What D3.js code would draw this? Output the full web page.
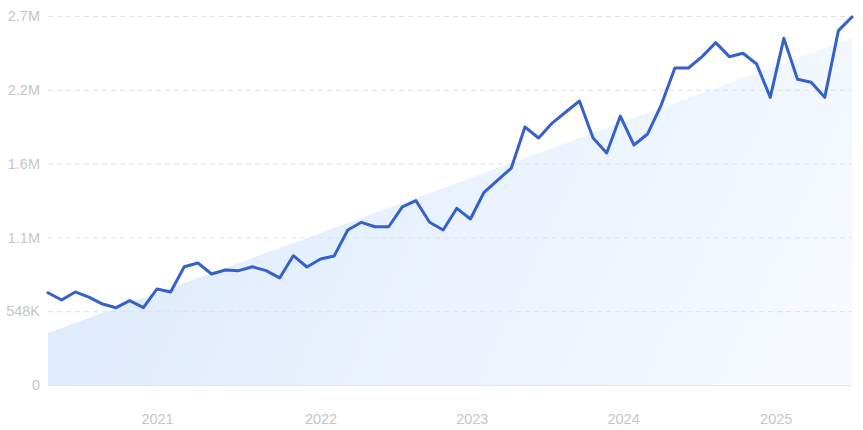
<!DOCTYPE html>
<html>
<head>
<meta charset="utf-8">
<script src="https://cdn.jsdelivr.net/npm/d3@7/dist/d3.min.js"></script>
<style>
  html, body { margin: 0; padding: 0; background: #ffffff; }
  svg { display: block; font-family: Inter, "Noto Sans", sans-serif; }
</style>
</head>
<body>
<svg id="chart" width="863" height="430"></svg>
<script>
// ---- data ----
const values = [
  685000, 631000, 691000, 653000, 601000, 574000, 626000, 574000, 713000, 691000,
  878000, 906000, 824000, 854000, 849000, 878000, 849000, 795000, 960000, 876000,
  936000, 958000, 1151000, 1208000, 1175000, 1175000, 1322000, 1369000, 1208000, 1151000,
  1312000, 1233000, 1431000, 1522000, 1611000, 1916000, 1834000, 1945000, 2027000, 2109000,
  1834000, 1723000, 1997000, 1782000, 1864000, 2079000, 2354000, 2354000, 2438000, 2542000,
  2438000, 2463000, 2384000, 2136000, 2574000, 2270000, 2248000, 2136000, 2631000, 2733000
];
const trendValues = [386000, 2577000];       // trend at first and last point
const yTickValues = [0, 548000, 1096000, 1644000, 2192000, 2740000];
const yTickLabels = ["0", "548K", "1.1M", "1.6M", "2.2M", "2.7M"];
const xTickIndex = [8, 20, 31.1, 42.2, 53.4];
const xTickLabels = ["2021", "2022", "2023", "2024", "2025"];

// ---- layout ----
const svg = d3.select("#chart");
const mLeft = 48, mRight = 852, mTop = 16, mBottom = 385;

const x = d3.scaleLinear().domain([0, values.length - 1]).range([mLeft, mRight]);
const y = d3.scaleLinear().domain([0, 2740000]).range([mBottom, mTop]);

// gradient
const defs = svg.append("defs");
const grad = defs.append("linearGradient")
  .attr("id", "fillGrad")
  .attr("gradientUnits", "userSpaceOnUse")
  .attr("x1", mLeft).attr("y1", mTop)
  .attr("x2", mRight).attr("y2", mBottom);
grad.append("stop").attr("offset", "0%").attr("stop-color", "#dce8fb");
grad.append("stop").attr("offset", "55%").attr("stop-color", "#eaf3fe");
grad.append("stop").attr("offset", "100%").attr("stop-color", "#f7faff");

// trend area
const trendData = [
  { i: 0, v: trendValues[0] },
  { i: values.length - 1, v: trendValues[1] }
];
svg.append("path")
  .datum(trendData)
  .attr("fill", "url(#fillGrad)")
  .attr("d", d3.area().x(d => x(d.i)).y0(y(0)).y1(d => y(d.v)));

// y axis labels
const yAxis = d3.axisLeft(y)
  .tickValues(yTickValues)
  .tickFormat((d, i) => yTickLabels[i])
  .tickSize(0)
  .tickPadding(8);

const gy = svg.append("g").attr("transform", `translate(${mLeft},0)`).call(yAxis);
gy.select(".domain").remove();
gy.selectAll("text")
  .attr("fill", "#c6c6c8")
  .style("font-size", "14.5px")
  .attr("x", -8);

// grid lines
const grid = svg.append("g");
grid.selectAll("line")
  .data(yTickValues)
  .join("line")
  .attr("x1", mLeft).attr("x2", mRight)
  .attr("y1", d => y(d) + 0.5).attr("y2", d => y(d) + 0.5)
  .attr("stroke", d => d === 0 ? "#e2e5ea" : "#dde2e8")
  .attr("stroke-width", 1)
  .attr("stroke-dasharray", d => d === 0 ? null : "5,4");

// x axis labels
const xAxis = d3.axisBottom(x)
  .tickValues(xTickIndex)
  .tickFormat((d, i) => xTickLabels[i])
  .tickSize(0)
  .tickPadding(0);
const gx = svg.append("g").attr("transform", `translate(0,${mBottom})`).call(xAxis);
gx.select(".domain").remove();
gx.selectAll("text")
  .attr("fill", "#c6c6c8")
  .style("font-size", "14.5px")
  .attr("dy", null)
  .attr("y", 39);

// line
svg.append("path")
  .datum(values)
  .attr("fill", "none")
  .attr("stroke", "#3561cb")
  .attr("stroke-width", 3)
  .attr("stroke-linejoin", "round")
  .attr("stroke-linecap", "round")
  .attr("d", d3.line().x((d, i) => x(i)).y(d => y(d)));
</script>
</body>
</html>
